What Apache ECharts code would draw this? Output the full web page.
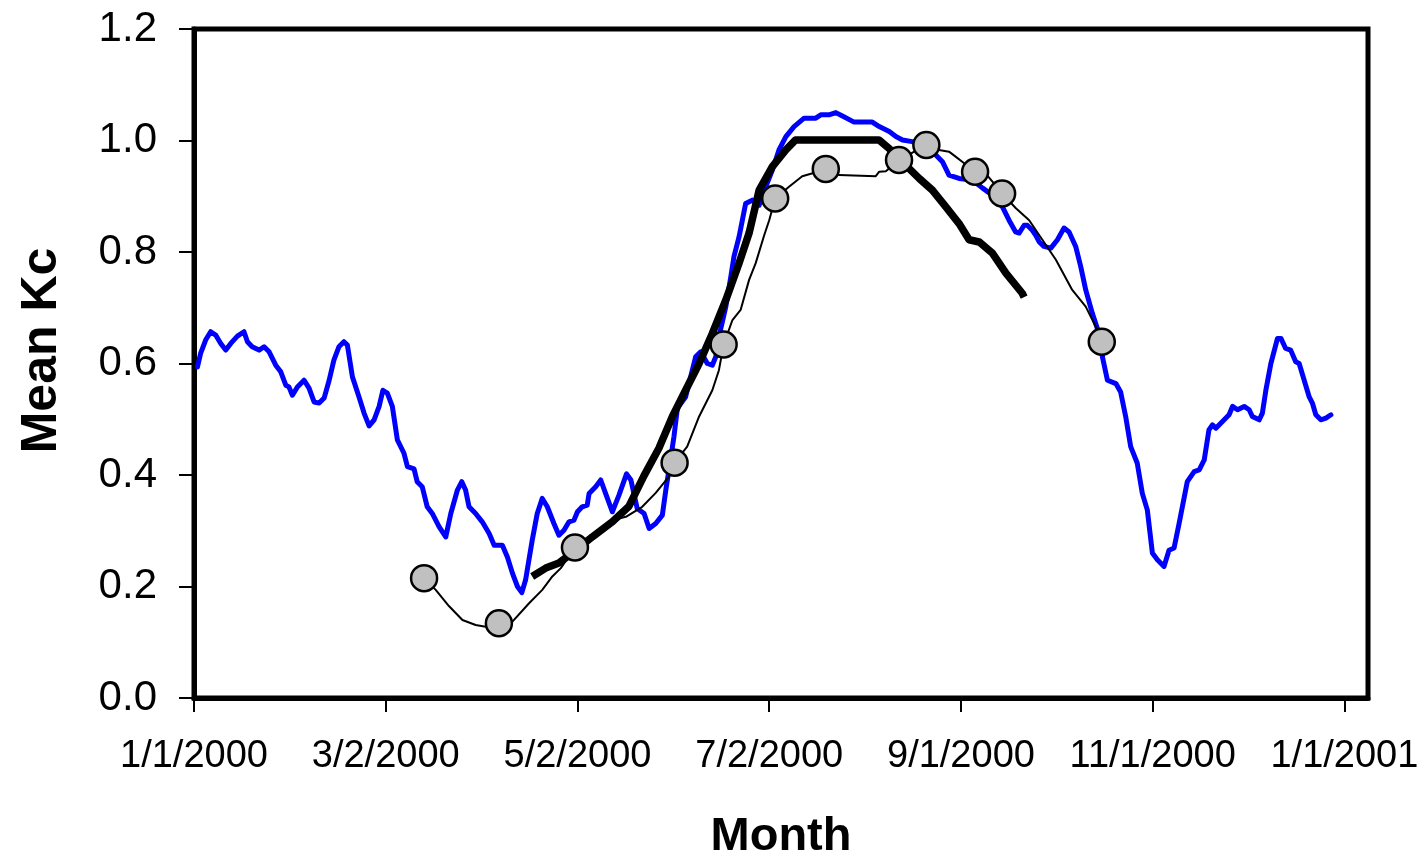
<!DOCTYPE html>
<html><head><meta charset="utf-8">
<script src="https://cdn.jsdelivr.net/npm/echarts@6/dist/echarts.min.js"></script>
<style>html,body{margin:0;padding:0;background:#fff}#c{width:1420px;height:853px}</style>
</head><body><div id="c"></div>
<script>
// x values are days since 1/1/2000
const tickDays = [0, 61, 122, 183, 244, 305, 366];
const tickLabels = ['1/1/2000', '3/2/2000', '5/2/2000', '7/2/2000', '9/1/2000', '11/1/2000', '1/1/2001'];
const yTicks = [0, 0.2, 0.4, 0.6, 0.8, 1.0, 1.2];

// Blue daily Kc line
const blueKc = [
[1.1,0.594],[2.1,0.618],[3.7,0.642],[5.3,0.657],[6.9,0.651],[8.5,0.636],[10.1,0.624],[11.7,0.636],[13.8,0.649],[15.9,0.657],
[17.0,0.639],[18.5,0.630],[20.7,0.624],[22.3,0.630],[23.9,0.621],[26.0,0.597],[27.6,0.585],[29.2,0.561],[30.2,0.558],[31.3,0.543],
[32.9,0.558],[35.0,0.570],[36.6,0.556],[38.2,0.531],[39.8,0.529],[41.4,0.538],[43.0,0.570],[44.5,0.606],[46.1,0.630],[47.7,0.639],
[48.8,0.633],[50.4,0.576],[52.5,0.540],[54.1,0.511],[55.7,0.488],[57.3,0.499],[58.9,0.523],[60.1,0.552],[61.5,0.547],[63.1,0.523],
[64.7,0.463],[66.8,0.439],[67.9,0.415],[70.0,0.411],[71.0,0.388],[72.6,0.379],[74.2,0.343],[75.8,0.331],[78.0,0.307],[80.1,0.289],
[81.7,0.331],[83.8,0.373],[85.2,0.388],[86.4,0.373],[87.5,0.343],[89.6,0.331],[91.7,0.316],[93.9,0.295],[95.5,0.274],[98.1,0.274],
[99.7,0.253],[101.3,0.224],[102.9,0.200],[104.3,0.189],[105.5,0.212],[107.6,0.283],[109.2,0.331],[110.8,0.358],[112.4,0.343],[114.5,0.313],
[116.1,0.292],[117.7,0.301],[119.3,0.316],[120.9,0.319],[122.0,0.334],[123.5,0.343],[125.1,0.346],[125.7,0.367],[127.8,0.379],[129.4,0.391],
[131.0,0.366],[133.1,0.334],[135.2,0.364],[137.6,0.402],[139.0,0.391],[141.0,0.340],[143.2,0.331],[144.8,0.304],[146.9,0.313],[149.0,0.328],
[150.1,0.373],[151.1,0.409],[152.7,0.469],[153.8,0.520],[156.4,0.540],[158.0,0.576],[159.6,0.612],[161.2,0.621],[163.3,0.600],[164.9,0.597],
[166.0,0.612],[167.0,0.648],[169.2,0.702],[170.8,0.756],[171.8,0.792],[173.4,0.827],[175.5,0.887],[177.6,0.893],[179.8,0.884],[181.9,0.917],
[184.0,0.947],[186.1,0.983],[188.3,1.007],[190.9,1.025],[194.1,1.040],[197.8,1.040],[199.4,1.046],[202.0,1.046],[204.2,1.050],[206.3,1.044],
[210.0,1.033],[215.8,1.033],[218.0,1.025],[221.2,1.016],[223.3,1.007],[225.4,1.001],[228.5,0.998],[232.8,0.989],[236.0,0.974],[238.1,0.962],
[240.2,0.938],[243.4,0.932],[247.6,0.929],[250.8,0.915],[254.0,0.902],[257.2,0.881],[259.3,0.857],[261.4,0.836],[262.5,0.834],[264.1,0.848],
[265.1,0.848],[266.7,0.839],[267.8,0.830],[268.9,0.818],[270.4,0.810],[272.6,0.807],[274.7,0.822],[276.8,0.843],[278.4,0.836],[280.5,0.810],
[282.1,0.774],[283.7,0.732],[285.8,0.690],[287.9,0.654],[289.0,0.612],[290.6,0.570],[293.3,0.564],[294.8,0.549],[296.4,0.505],[298.0,0.451],
[300.1,0.421],[301.7,0.367],[303.3,0.337],[304.9,0.260],[306.5,0.248],[308.6,0.236],[310.2,0.265],[311.8,0.269],[313.4,0.313],[316.0,0.388],
[318.2,0.406],[319.8,0.409],[321.4,0.427],[322.9,0.481],[324.0,0.490],[325.1,0.484],[327.2,0.496],[329.3,0.508],[330.4,0.523],[332.0,0.517],
[334.1,0.523],[335.7,0.517],[336.7,0.505],[338.9,0.499],[339.9,0.511],[341.0,0.552],[342.6,0.600],[344.7,0.645],[345.8,0.645],[347.3,0.627],
[348.9,0.624],[350.5,0.603],[351.6,0.600],[353.2,0.570],[354.8,0.540],[355.8,0.529],[356.9,0.508],[358.5,0.499],[360.1,0.502],[361.7,0.508]
];

// Thick black Kc line
const thickKc = [
[107.6,0.218],[111.9,0.233],[116.1,0.242],[121.2,0.264],[126.7,0.289],[133.1,0.316],[138.4,0.344],[143.1,0.398],[147.9,0.448],[152.2,0.505],
[156.4,0.552],[160.7,0.600],[164.9,0.654],[169.2,0.714],[173.4,0.780],[176.6,0.834],[179.8,0.911],[184.0,0.953],[188.3,0.983],[191.4,1.001],
[217.9,1.001],[221.1,0.986],[226.4,0.956],[230.7,0.932],[234.9,0.911],[239.2,0.881],[243.4,0.851],[246.6,0.822],[249.8,0.818],[254.0,0.798],
[258.3,0.762],[263.5,0.726],[264.1,0.719]
];

// Thin black Kc line
const thinKc = [
[73.2,0.215],[76.9,0.194],[81.1,0.165],[85.4,0.140],[89.6,0.131],[92.8,0.128],[97.0,0.134],[101.3,0.137],[106.6,0.170],[110.8,0.194],
[114.0,0.218],[116.7,0.233],[121.2,0.270],[126.7,0.291],[133.1,0.319],[137.4,0.325],[142.6,0.343],[146.9,0.368],[151.1,0.397],[152.9,0.422],
[156.9,0.451],[160.7,0.505],[164.9,0.552],[167.0,0.588],[168.5,0.634],[171.3,0.678],[173.9,0.696],[176.6,0.750],[178.7,0.780],[181.4,0.830],
[183.0,0.857],[184.9,0.896],[189.3,0.917],[193.5,0.936],[201.0,0.948],[205.2,0.938],[216.9,0.936],[218.0,0.944],[220.1,0.945],[224.3,0.965],
[233.0,0.992],[237.0,0.983],[240.2,0.980],[242.3,0.971],[244.4,0.962],[248.5,0.944],[252.9,0.934],[257.1,0.905],[261.4,0.879],[265.7,0.857],
[269.9,0.822],[274.2,0.786],[279.4,0.732],[283.7,0.702],[286.9,0.666],[288.8,0.639]
];

// Grey circle markers
const markerKc = [
[73.2,0.215],[97.0,0.134],[121.2,0.270],[152.9,0.422],[168.5,0.634],[184.9,0.896],[201.0,0.949],[224.3,0.965],[233.0,0.992],[248.5,0.944],
[257.1,0.905],[288.8,0.639]
];

const FONT = '"Liberation Sans", Arial, sans-serif';
const chart = echarts.init(document.getElementById('c'), null, {renderer: 'canvas'});
chart.setOption({
  animation: false,
  backgroundColor: '#fff',
  grid: {left: 194, right: 52, top: 29, bottom: 155, containLabel: false, outerBoundsMode: 'none',
         show: true, borderColor: '#000', borderWidth: 5, backgroundColor: 'transparent'},
  xAxis: {
    type: 'value', min: 0, max: 373.5,
    name: 'Month', nameLocation: 'middle', nameGap: 116,
    nameTextStyle: {fontFamily: FONT, fontSize: 47, fontWeight: 'bold', color: '#000'},
    axisLine: {show: true, lineStyle: {color: '#000', width: 5}},
    axisTick: {show: true, inside: false, length: 14, lineStyle: {color: '#000', width: 2}, customValues: tickDays},
    axisLabel: {fontFamily: FONT, fontSize: 38, color: '#000', margin: 40, customValues: tickDays,
      formatter: v => { const i = tickDays.indexOf(Math.round(v)); return i >= 0 ? tickLabels[i] : ''; }},
    splitLine: {show: false}
  },
  yAxis: {
    type: 'value', min: 0, max: 1.2, interval: 0.2,
    name: 'Mean Kc', nameLocation: 'middle', nameGap: 127, nameRotate: 90,
    nameTextStyle: {fontFamily: FONT, fontSize: 50, fontWeight: 'bold', color: '#000', padding: [0, 0, 0, 26]},
    axisLine: {show: true, lineStyle: {color: '#000', width: 5}},
    axisTick: {show: true, inside: false, length: 15, lineStyle: {color: '#000', width: 2}},
    axisLabel: {fontFamily: FONT, fontSize: 42, color: '#000', margin: 37, formatter: v => v.toFixed(1)},
    splitLine: {show: false}
  },
  series: [
    {type: 'line', data: blueKc, showSymbol: false, symbol: 'none', z: 2,
     lineStyle: {color: '#0000FF', width: 5, join: 'round', cap: 'round'}},
    {type: 'line', data: thickKc, showSymbol: false, symbol: 'none', z: 3,
     lineStyle: {color: '#000', width: 7.5, join: 'round', cap: 'butt'}},
    {type: 'line', data: thinKc, showSymbol: false, symbol: 'none', z: 4,
     lineStyle: {color: '#000', width: 2}},
    {type: 'scatter', data: markerKc, symbol: 'circle', symbolSize: 26, z: 5,
     itemStyle: {color: '#C0C0C0', borderColor: '#000', borderWidth: 2.5, opacity: 1}}
  ]
});
</script></body></html>
